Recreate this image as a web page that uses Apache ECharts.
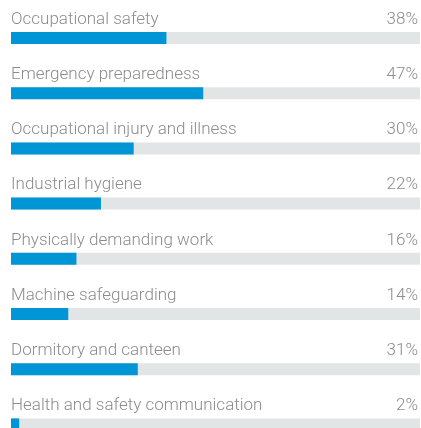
<!DOCTYPE html>
<html>
<head>
<meta charset="utf-8">
<style>
  html, body { margin: 0; padding: 0; background: #ffffff; }
  #chart { width: 421px; height: 428px; }
</style>
<script src="https://cdn.jsdelivr.net/npm/echarts@6/dist/echarts.min.js"></script>
</head>
<body>
<div id="chart"></div>
<script>
// Training topics and share of participants (%)
const topics = [
  'Occupational safety',
  'Emergency preparedness',
  'Occupational injury and illness',
  'Industrial hygiene',
  'Physically demanding work',
  'Machine safeguarding',
  'Dormitory and canteen',
  'Health and safety communication'
];
const shares = [38, 47, 30, 22, 16, 14, 31, 2];
const fullScale = topics.map(() => 100);

const textColor = '#8c8c8c';
const fontFamily = 'Roboto, "Open Sans", sans-serif';

const chart = echarts.init(document.getElementById('chart'), null, { renderer: 'canvas' });

chart.setOption({
  animation: false,
  grid: {
    left: 11, width: 409, top: 10.4, height: 441.6,
    containLabel: false,
    outerBoundsMode: 'none'
  },
  xAxis: { type: 'value', min: 0, max: 100, show: false },
  yAxis: {
    type: 'category',
    data: topics,
    inverse: true,
    show: false
  },
  series: [
    {
      // grey track, carries the percentage on the right
      type: 'bar',
      data: fullScale,
      barWidth: 12,
      barGap: '-100%',
      itemStyle: { color: '#e2e5e6' },
      silent: true,
      label: {
        show: true,
        position: ['100%', -4],
        align: 'right',
        verticalAlign: 'bottom',
        offset: [-2, 0],
        color: textColor,
        fontFamily: fontFamily,
        fontWeight: 300,
        fontSize: 17,
        formatter: p => shares[p.dataIndex] + '%'
      }
    },
    {
      // blue share bar, carries the topic name on the left
      type: 'bar',
      data: shares,
      barWidth: 12,
      barGap: '-100%',
      itemStyle: { color: '#0096d6' },
      label: {
        show: true,
        position: [0, -4],
        align: 'left',
        verticalAlign: 'bottom',
        color: textColor,
        fontFamily: fontFamily,
        fontWeight: 300,
        fontSize: 17,
        formatter: p => topics[p.dataIndex]
      }
    }
  ]
});
</script>
</body>
</html>
